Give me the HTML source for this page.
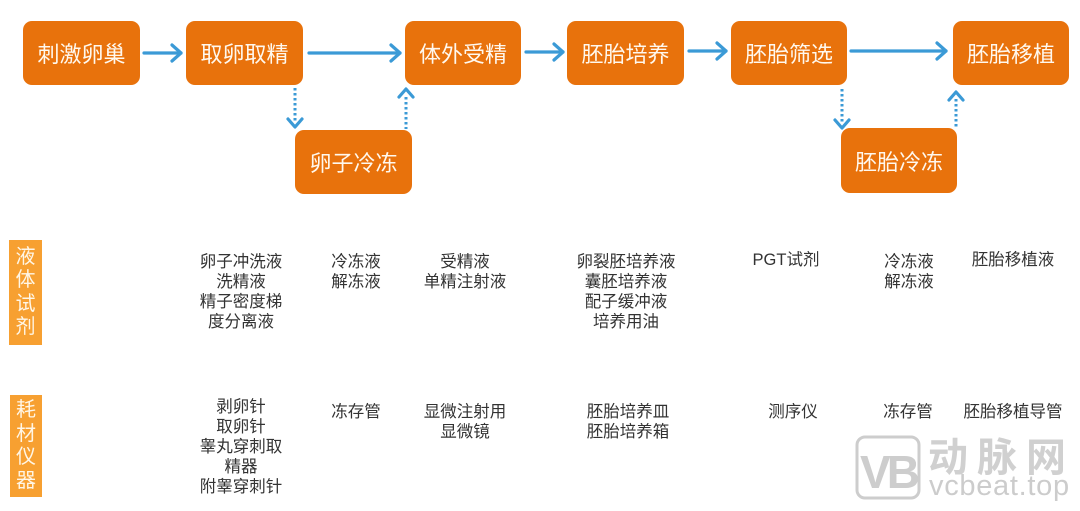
<!DOCTYPE html>
<html>
<head>
<meta charset="utf-8">
<style>
  html,body{margin:0;padding:0;background:#fff;}
  body{width:1080px;height:511px;position:relative;overflow:hidden;
       font-family:"Liberation Sans","Noto Sans CJK SC",sans-serif;}
  .box{position:absolute;background:#E8720C;border-radius:9px;color:#fff8ee;
       font-size:22px;display:flex;align-items:center;justify-content:center;
       letter-spacing:0px;}
  .lab{position:absolute;background:#F7A031;color:#fff6e6;font-size:20px;
       line-height:23.5px;text-align:center;display:flex;flex-direction:column;
       justify-content:center;}
  .col{position:absolute;width:140px;margin-left:-70px;text-align:center;
       font-size:16.5px;line-height:20px;color:#333;white-space:nowrap;}
  svg.ar{position:absolute;left:0;top:0;}
</style>
</head>
<body>

<!-- flow boxes -->
<div class="box" style="left:23px;top:21px;width:117px;height:64px;">刺激卵巢</div>
<div class="box" style="left:186px;top:21px;width:117px;height:64px;">取卵取精</div>
<div class="box" style="left:405px;top:21px;width:116px;height:64px;">体外受精</div>
<div class="box" style="left:567px;top:21px;width:117px;height:64px;">胚胎培养</div>
<div class="box" style="left:731px;top:21px;width:116px;height:64px;">胚胎筛选</div>
<div class="box" style="left:953px;top:21px;width:116px;height:64px;">胚胎移植</div>
<div class="box" style="left:295px;top:130px;width:117px;height:64px;">卵子冷冻</div>
<div class="box" style="left:841px;top:128px;width:116px;height:65px;">胚胎冷冻</div>

<!-- arrows -->
<svg class="ar" width="1080" height="511" viewBox="0 0 1080 511">
  <g stroke="#3B9AD6" stroke-width="3.2" fill="none" stroke-linecap="round" stroke-linejoin="round">
    <line x1="144" y1="53" x2="181" y2="53"/>
    <polyline points="172,45 181,53 172,61"/>
    <line x1="309" y1="53" x2="400" y2="53"/>
    <polyline points="391,45 400,53 391,61"/>
    <line x1="526" y1="52" x2="563" y2="52"/>
    <polyline points="554,44 563,52 554,60"/>
    <line x1="689" y1="51" x2="726" y2="51"/>
    <polyline points="717,43 726,51 717,59"/>
    <line x1="851" y1="51" x2="946" y2="51"/>
    <polyline points="937,43 946,51 937,59"/>
  </g>
  <g stroke="#3B9AD6" stroke-width="3" fill="none">
    <line x1="295" y1="88" x2="295" y2="122" stroke-dasharray="2.5 2.5"/>
    <line x1="406" y1="97" x2="406" y2="129" stroke-dasharray="2.5 2.5"/>
    <line x1="842" y1="89" x2="842" y2="122" stroke-dasharray="2.5 2.5"/>
    <line x1="956" y1="99" x2="956" y2="128" stroke-dasharray="2.5 2.5"/>
  </g>
  <g stroke="#3B9AD6" stroke-width="3.2" fill="none" stroke-linecap="round" stroke-linejoin="round">
    <polyline points="288,119 295,127 302,119"/>
    <polyline points="399,97 406,89 413,97"/>
    <polyline points="835,120 842,128 849,120"/>
    <polyline points="949,100 956,92 963,100"/>
  </g>
</svg>

<!-- side labels -->
<div class="lab" style="left:9px;top:240px;width:33px;height:105px;">液<br>体<br>试<br>剂</div>
<div class="lab" style="left:10px;top:395px;width:32px;height:102px;">耗<br>材<br>仪<br>器</div>

<!-- row 1: liquid reagents -->
<div class="col" style="left:241px;top:252px;">卵子冲洗液<br>洗精液<br>精子密度梯<br>度分离液</div>
<div class="col" style="left:356px;top:252px;">冷冻液<br>解冻液</div>
<div class="col" style="left:465px;top:252px;">受精液<br>单精注射液</div>
<div class="col" style="left:626px;top:252px;">卵裂胚培养液<br>囊胚培养液<br>配子缓冲液<br>培养用油</div>
<div class="col" style="left:786px;top:250px;">PGT试剂</div>
<div class="col" style="left:909px;top:252px;">冷冻液<br>解冻液</div>
<div class="col" style="left:1013px;top:250px;">胚胎移植液</div>

<!-- row 2: consumables/instruments -->
<div class="col" style="left:241px;top:397px;">剥卵针<br>取卵针<br>睾丸穿刺取<br>精器<br>附睾穿刺针</div>
<div class="col" style="left:356px;top:402px;">冻存管</div>
<div class="col" style="left:465px;top:402px;">显微注射用<br>显微镜</div>
<div class="col" style="left:628px;top:402px;">胚胎培养皿<br>胚胎培养箱</div>
<div class="col" style="left:793px;top:402px;">测序仪</div>
<div class="col" style="left:908px;top:402px;">冻存管</div>
<div class="col" style="left:1013px;top:402px;">胚胎移植导管</div>

<!-- watermark -->
<svg style="position:absolute;left:855px;top:435px;" width="68" height="66" viewBox="0 0 68 66">
  <rect x="2" y="2" width="62" height="61" rx="8" ry="8" fill="none" stroke="#cdcdcd" stroke-width="3"/>
  <text x="33" y="53" text-anchor="middle" font-family="Liberation Sans, sans-serif" font-weight="bold"
        font-size="46" fill="#cdcdcd" letter-spacing="-4">VB</text>
</svg>
<div style="position:absolute;left:928px;top:432px;width:150px;font-size:40px;line-height:44px;
            color:#d0d0d0;font-family:'Noto Sans CJK SC',sans-serif;font-weight:bold;letter-spacing:9px;white-space:nowrap;">动脉网</div>
<div style="position:absolute;left:929px;top:470px;font-size:29px;line-height:32px;color:#cccccc;
            font-family:'Liberation Sans',sans-serif;white-space:nowrap;letter-spacing:0.7px;">vcbeat.top</div>

</body>
</html>
